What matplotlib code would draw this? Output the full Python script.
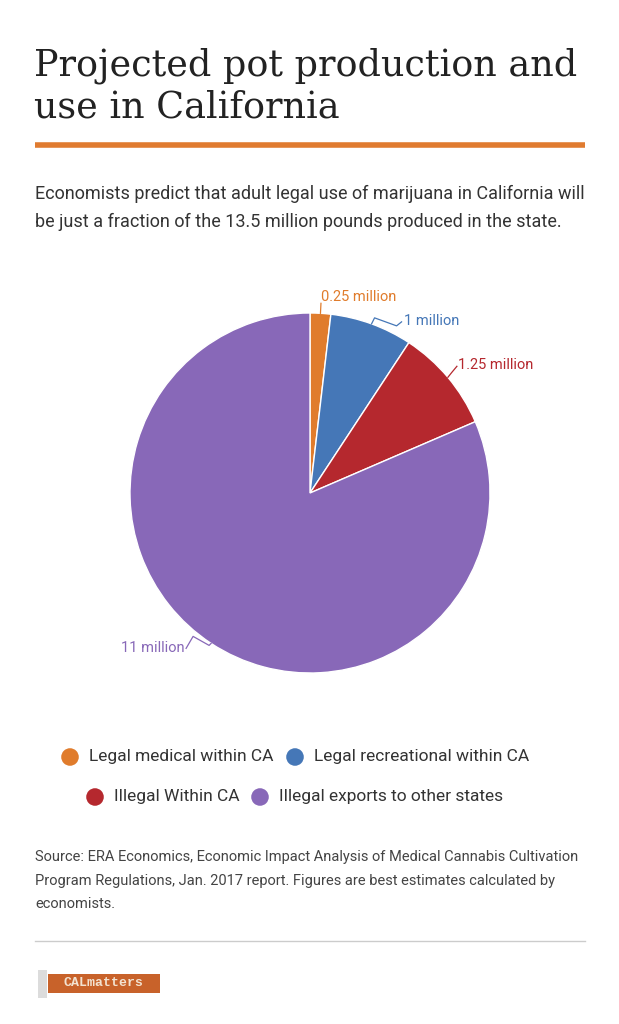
import numpy as np
import matplotlib
matplotlib.use("Agg")
import matplotlib.pyplot as plt
from matplotlib.patches import Rectangle

# data
categories = ["Legal medical within CA", "Legal recreational within CA",
              "Illegal Within CA", "Illegal exports to other states"]
values = [0.25, 1, 1.25, 11]          # million pounds
value_labels = ["0.25 million", "1 million", "1.25 million", "11 million"]
colors = ["#e07c2c", "#4577b7", "#b5282e", "#8868b8"]

title_lines = ["Projected pot production and", "use in California"]
subtitle_lines = ["Economists predict that adult legal use of marijuana in California will",
                  "be just a fraction of the 13.5 million pounds produced in the state."]
source_lines = ["Source: ERA Economics, Economic Impact Analysis of Medical Cannabis Cultivation",
                "Program Regulations, Jan. 2017 report. Figures are best estimates calculated by",
                "economists."]

plt.rcParams['font.family'] = ['Roboto', 'DejaVu Sans']

W, H = 619, 1024
fig = plt.figure(figsize=(W / 100, H / 100), dpi=100)
fig.patch.set_facecolor("white")

# overlay axes in pixel coordinates (y down)
bg = fig.add_axes([0, 0, 1, 1])
bg.set_xlim(0, W)
bg.set_ylim(H, 0)
bg.axis("off")

# title
for i, line in enumerate(title_lines):
    bg.text(34, 75 + i * 42, line, fontsize=26.3, family="DejaVu Serif",
            color="#222222", va="baseline", ha="left")
bg.plot([35, 585], [145, 145], color="#e07b30", lw=4, solid_capstyle="butt")

for i, line in enumerate(subtitle_lines):
    bg.text(35, 199 + i * 28, line, fontsize=13, color="#333333", va="baseline")

# pie
R = 180
cx, cy = 310, 493
pax = fig.add_axes([(cx - R) / W, (H - cy - R) / H, 2 * R / W, 2 * R / H])
pax.pie(values, colors=colors, startangle=90, counterclock=False, radius=1,
        wedgeprops=dict(edgecolor="white", linewidth=1))
pax.set_xlim(-1, 1)
pax.set_ylim(-1, 1)
pax.axis("off")

# leader lines: offsets in pixels from slice edge (x right, y down)
leaders = [
    [(0, 0), (0.5, -10)],
    [(0, 0), (3, -6), (25, 2), (30, -2)],
    [(0, 0), (4, -5), (9, -11)],
    [(0, 0), (-2, 2), (-18, -7), (-25, 5)],
]
label_off = [(1, -16, "left"), (32, -3, "left"), (10, -12, "left"), (-26, 5, "right")]

total = sum(values)
cum = np.cumsum([0] + values)
for i, v in enumerate(values):
    mid = (cum[i] + cum[i + 1]) / 2 / total * 2 * np.pi
    ex, ey = np.sin(mid), np.cos(mid)
    xs = [ex + dx / R for dx, dy in leaders[i]]
    ys = [ey - dy / R for dx, dy in leaders[i]]
    pax.plot(xs, ys, color=colors[i], lw=0.9, clip_on=False)
    lx, ly, ha = label_off[i]
    pax.text(ex + lx / R, ey - ly / R, value_labels[i], color=colors[i],
             fontsize=10.5, ha=ha, va="center", clip_on=False)

# legend
leg_pos = [(70, 757), (295, 757), (95, 797), (260, 797)]
for (x, y), c, lab in zip(leg_pos, colors, categories):
    bg.scatter([x], [y], s=160, color=c, edgecolor="none")
    bg.text(x + 19, y, lab, fontsize=12.5, color="#333333", va="center")

# source
for i, line in enumerate(source_lines):
    bg.text(35, 861 + i * 23.5, line, fontsize=10.5, color="#444444", va="baseline")

bg.plot([35, 585], [941, 941], color="#cccccc", lw=1)

# logo
bg.add_patch(Rectangle((48, 974), 112, 19, color="#c8622a", lw=0))
bg.add_patch(Rectangle((38, 970), 9, 28, color="#dcdcdc", lw=0))
bg.text(104, 983.5, "CALmatters", family="Liberation Mono", fontsize=9.5,
        color="#f3e2d0", ha="center", va="center", weight="bold")

fig.savefig("out.png", dpi=100, facecolor="white")
